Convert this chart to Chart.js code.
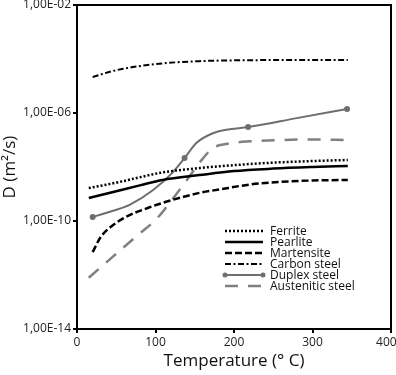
<!DOCTYPE html>
<html>
<head>
<meta charset="utf-8">
<script src="https://cdn.jsdelivr.net/npm/chart.js@4.4.0/dist/chart.umd.min.js"></script>
<style>
  html, body { margin: 0; padding: 0; background: #fff; }
  canvas { display: block; }
</style>
</head>
<body>
<canvas id="diffusion" width="396" height="375"></canvas>
<script>
// temperatures (deg C) and diffusion coefficients D (m2/s)
var ferriteT = [15, 50, 80, 109, 156, 200, 250, 300, 345];
var ferriteD = [1.66e-9, 2.63e-9, 4.17e-9, 6.31e-9, 9.12e-9, 1.17e-8, 1.45e-8, 1.66e-8, 1.82e-8];

var pearliteT = [15, 50, 80, 109, 156, 200, 250, 300, 345];
var pearliteD = [7.08e-10, 1.26e-9, 2.09e-9, 3.31e-9, 5.01e-9, 7.08e-9, 8.71e-9, 1.0e-8, 1.10e-8];

var martensiteT = [20, 30, 46, 67, 90, 109, 130, 156, 182, 220, 260, 300, 345];
var martensiteD = [7.08e-12, 2.51e-11, 7.08e-11, 1.66e-10, 3.02e-10, 4.68e-10, 7.08e-10, 1.10e-9, 1.48e-9, 2.24e-9, 2.82e-9, 3.16e-9, 3.31e-9];

var carbonT = [20, 45, 71, 114, 156, 200, 260, 345];
var carbonD = [2.14e-5, 3.55e-5, 5.01e-5, 7.08e-5, 8.32e-5, 8.91e-5, 9.12e-5, 9.12e-5];

var duplexT = [20, 45, 67, 97, 122, 137, 152, 173, 190, 218, 280, 344];
var duplexD = [1.41e-10, 2.34e-10, 3.98e-10, 1.41e-9, 6.31e-9, 2.14e-8, 7.76e-8, 1.78e-7, 2.40e-7, 3.02e-7, 6.46e-7, 1.41e-6];
var duplexMarkers = [20, 137, 218, 344];

var austeniticT = [15, 45, 75, 102, 120, 140, 160, 173, 190, 220, 260, 300, 345];
var austeniticD = [7.94e-13, 4.57e-12, 2.63e-11, 1.26e-10, 5.62e-10, 3.31e-9, 2.0e-8, 5.01e-8, 7.08e-8, 8.91e-8, 1.0e-7, 1.05e-7, 1.0e-7];

var yTickValues = [1e-14, 1e-10, 1e-6, 1e-2];
var yTickLabels = ['1,00E-14', '1,00E-10', '1,00E-06', '1,00E-02'];

function toPoints(xs, ys) {
  var pts = [];
  for (var i in xs) {
    pts.push({x: xs[i], y: ys[i]});
  }
  return pts;
}

var FONT = "'Open Sans', 'DejaVu Sans', sans-serif";

// box around the plot area
var framePlugin = {
  id: 'frame',
  beforeDatasetsDraw: function(chart) {
    var a = chart.chartArea, ctx = chart.ctx;
    ctx.save();
    ctx.strokeStyle = '#000';
    ctx.lineWidth = 2;
    ctx.strokeRect(a.left, a.top, a.right - a.left, a.bottom - a.top);
    ctx.restore();
  }
};

// legend drawn inside the plot, lower right
var legendPlugin = {
  id: 'insideLegend',
  afterDatasetsDraw: function(chart) {
    var ctx = chart.ctx, a = chart.chartArea;
    var x0 = a.left + 148, x1 = a.left + 186, tx = a.left + 193;
    var y = 231, step = 11;
    ctx.save();
    chart.data.datasets.forEach(function(ds) {
      ctx.strokeStyle = ds.borderColor;
      ctx.lineWidth = ds.borderWidth;
      ctx.setLineDash(ds.borderDash || []);
      ctx.beginPath();
      ctx.moveTo(x0, y);
      ctx.lineTo(x1, y);
      ctx.stroke();
      ctx.setLineDash([]);
      if (ds.legendDots) {
        ctx.fillStyle = ds.borderColor;
        [x0, x1].forEach(function(px) {
          ctx.beginPath();
          ctx.arc(px, y, 2.5, 0, Math.PI * 2);
          ctx.fill();
        });
      }
      ctx.fillStyle = '#111';
      ctx.font = '12px ' + FONT;
      ctx.textBaseline = 'middle';
      ctx.textAlign = 'left';
      ctx.fillText(ds.label, tx, y + 0.5);
      y += step;
    });
    ctx.restore();
  }
};

var ctx = document.getElementById('diffusion');

var chart = new Chart(ctx, {
  type: 'line',
  data: {
    datasets: [{
      label: 'Ferrite',
      data: toPoints(ferriteT, ferriteD),
      borderColor: '#000',
      borderWidth: 2.5,
      borderDash: [2, 2],
      pointRadius: 0
    }, {
      label: 'Pearlite',
      data: toPoints(pearliteT, pearliteD),
      borderColor: '#000',
      borderWidth: 2.5,
      pointRadius: 0
    }, {
      label: 'Martensite',
      data: toPoints(martensiteT, martensiteD),
      borderColor: '#000',
      borderWidth: 2.5,
      borderDash: [7, 3],
      pointRadius: 0
    }, {
      label: 'Carbon steel',
      data: toPoints(carbonT, carbonD),
      borderColor: '#000',
      borderWidth: 2,
      borderDash: [6, 2.5, 2, 2.5],
      pointRadius: 0
    }, {
      label: 'Duplex steel',
      data: toPoints(duplexT, duplexD),
      borderColor: '#6e6e6e',
      backgroundColor: '#6e6e6e',
      borderWidth: 2,
      legendDots: true,
      pointRadius: function(c) {
        return duplexMarkers.indexOf(duplexT[c.dataIndex]) >= 0 ? 3 : 0;
      },
      pointBorderWidth: 0
    }, {
      label: 'Austenitic steel',
      data: toPoints(austeniticT, austeniticD),
      borderColor: '#808080',
      borderWidth: 2.5,
      borderDash: [13, 10],
      pointRadius: 0
    }]
  },
  options: {
    responsive: false,
    animation: false,
    devicePixelRatio: 1,
    layout: { padding: { top: 5, right: 5, left: 0, bottom: 0 } },
    elements: {
      line: { cubicInterpolationMode: 'monotone', fill: false, borderCapStyle: 'butt' }
    },
    plugins: {
      legend: { display: false },
      tooltip: { enabled: false }
    },
    scales: {
      x: {
        type: 'linear',
        min: 0,
        max: 400,
        ticks: {
          stepSize: 100,
          color: '#222',
          font: { family: FONT, size: 12 },
          padding: 2,
          maxRotation: 0,
          // last label pulled in so it stays inside the window
          callback: function(value) { return value === 400 ? '400   ' : String(value); }
        },
        grid: { drawOnChartArea: false, color: '#000', lineWidth: 2, tickLength: 4 },
        border: { display: false },
        title: {
          display: true,
          text: 'Temperature (\u00b0 C)',
          color: '#111',
          font: { family: FONT, size: 17 },
          padding: { top: 0, bottom: 4 }
        },
        afterFit: function(scale) {
          scale.height = 46;
          scale.paddingLeft = 0;
          scale.paddingRight = 0;
        }
      },
      y: {
        type: 'logarithmic',
        min: 1e-14,
        max: 1e-2,
        afterBuildTicks: function(scale) {
          scale.ticks = yTickValues.map(function(v) { return {value: v}; });
        },
        ticks: {
          color: '#222',
          font: { family: FONT, size: 12 },
          padding: 2,
          callback: function(value, index) { return yTickLabels[index]; }
        },
        grid: { drawOnChartArea: false, color: '#000', lineWidth: 2, tickLength: 4 },
        border: { display: false },
        title: {
          display: true,
          text: 'D (m\u00b2/s)',
          color: '#111',
          font: { family: FONT, size: 17 },
          padding: { top: 0, bottom: 0 }
        },
        afterFit: function(scale) {
          scale.width = 77;
          scale.paddingTop = 0;
          scale.paddingBottom = 0;
        }
      }
    }
  },
  plugins: [framePlugin, legendPlugin]
});
</script>
</body>
</html>
